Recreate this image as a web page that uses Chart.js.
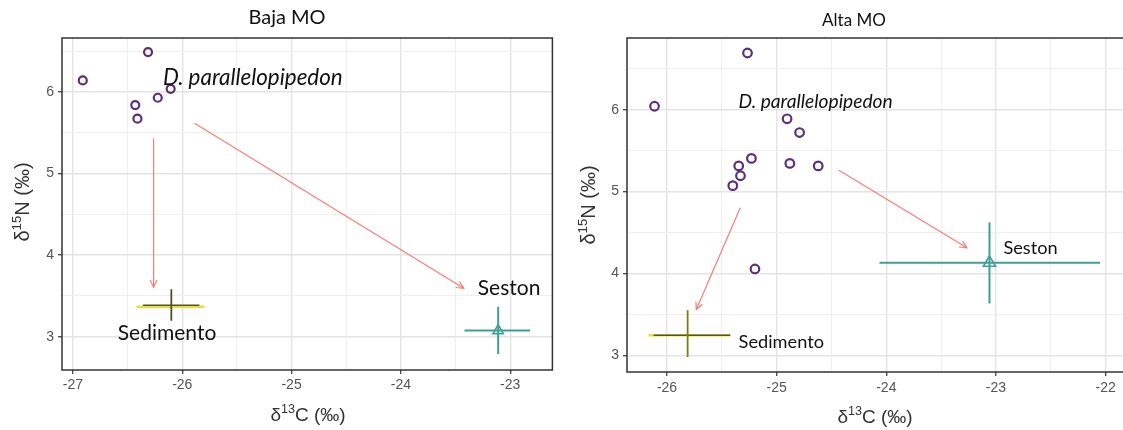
<!DOCTYPE html>
<html>
<head>
<meta charset="utf-8">
<script src="https://cdn.jsdelivr.net/npm/chart.js@4.4.1/dist/chart.umd.min.js"></script>
<style>
  html, body { margin: 0; padding: 0; background: #fff; overflow: hidden; width: 1123px; height: 430px; }
  canvas { position: absolute; top: 0; }
  #baja { left: 0; }
  #alta { left: 560px; }
</style>
</head>
<body>
<canvas id="baja" width="560" height="430"></canvas>
<canvas id="alta" width="600" height="430"></canvas>
<script>
// ---- Baja MO: D. parallelopipedon tissue values (δ13C, δ15N, ‰)
const bajaDparX = [-26.91, -26.313, -26.43, -26.41, -26.224, -26.106];
const bajaDparY = [6.143, 6.49, 5.84, 5.674, 5.93, 6.04];
// Sources: mean and error-bar ends
const bajaSedimentoMean = [-26.10, 3.366];
const bajaSedimentoXBar = [-26.418, -25.797];
const bajaSedimentoXBarInner = [-26.358, -25.843];
const bajaSedimentoYBar = [3.196, 3.582];
const bajaSestonMean = [-23.11, 3.074];
const bajaSestonXBar = [-23.418, -22.818];
const bajaSestonYBar = [2.788, 3.368];
// Arrows: [x0, y0, x1, y1]
const bajaArrows = [[-26.262, 5.43, -26.262, 3.607], [-25.888, 5.618, -23.425, 3.593]];
// Axis ranges and ticks
const bajaXRange = [-27.1, -22.614];
const bajaYRange = [2.591, 6.663];
const bajaXMajor = [-27, -26, -25, -24, -23];
const bajaXMinor = [-26.5, -25.5, -24.5, -23.5];
const bajaYMajor = [3, 4, 5, 6];
const bajaYMinor = [3.5, 4.5, 5.5, 6.5];

// ---- Alta MO
const altaDparX = [-26.114, -25.266, -24.905, -24.791, -25.23, -25.346, -25.33, -25.4, -24.88, -24.621, -25.198];
const altaDparY = [6.043, 6.694, 5.89, 5.722, 5.406, 5.314, 5.194, 5.073, 5.345, 5.314, 4.055];
const altaSedimentoMean = [-25.812, 3.245];
const altaSedimentoXBar = [-26.168, -25.423];
const altaSedimentoXBarInner = [-26.122, -25.423];
const altaSedimentoYBar = [2.98, 3.551];
const altaSestonMean = [-23.059, 4.13];
const altaSestonXBar = [-24.062, -22.05];
const altaSestonYBar = [3.633, 4.625];
const altaArrows = [[-25.332, 4.804, -25.733, 3.56], [-24.436, 5.265, -23.265, 4.314]];
const altaXRange = [-26.365, -21.75];
const altaYRange = [2.796, 6.877];
const altaXMajor = [-26, -25, -24, -23, -22];
const altaXMinor = [-25.5, -24.5, -23.5, -22.5];
const altaYMajor = [3, 4, 5, 6];
const altaYMinor = [3.5, 4.5, 5.5, 6.5];

// Axis titles as [text, isSuperscript] runs
const xTitleRuns = [['δ', false], ['13', true], ['C (‰)', false]];
const yTitleRuns = [['δ', false], ['15', true], ['N (‰)', false]];

const PURPLE = '#5d2f78';
const TEAL = '#3f9f95';
const YELLOW = '#e8e03a';
const OLIVE = '#55551f';
const ARROW = 'rgba(246,112,102,0.9)';

const pts = (xs, ys) => xs.map((x, i) => ({ x, y: ys[i] }));
const seg = (x0, y0, x1, y1) => [{ x: x0, y: y0 }, { x: x1, y: y1 }];
const isMajor = (v, major) => major.some(m => Math.abs(m - v) < 1e-9);

function axis(range, major, minor, fit, pad) {
  const all = major.concat(minor).sort((a, b) => a - b);
  return {
    type: 'linear',
    min: range[0],
    max: range[1],
    afterBuildTicks: ax => { ax.ticks = all.map(v => ({ value: v })); },
    afterFit: fit,
    border: { display: false },
    grid: {
      color: c => isMajor(c.tick.value, major) ? '#e4e4e4' : '#efefef',
      lineWidth: c => isMajor(c.tick.value, major) ? 1.4 : 1,
      tickColor: c => isMajor(c.tick.value, major) ? '#444' : 'rgba(0,0,0,0)',
      tickLength: 4,
      tickWidth: 1.3
    },
    ticks: {
      autoSkip: false,
      maxRotation: 0,
      padding: pad,
      color: '#555',
      font: { family: 'Liberation Sans', size: 14 },
      callback: v => isMajor(v, major) ? String(v) : ''
    }
  };
}

function lineSet(data, color, width) {
  return { data, showLine: true, borderColor: color, borderWidth: width, pointRadius: 0, fill: false };
}

// Draws a run list centred on (0,0) of the current transform, superscripts raised and smaller
function drawRuns(ctx, runs, size) {
  const fontFor = sup => (sup ? size * 0.66 : size) + 'px Liberation Sans';
  let total = 0;
  runs.forEach(([t, sup]) => { ctx.font = fontFor(sup); total += ctx.measureText(t).width; });
  let cx = -total / 2;
  ctx.textAlign = 'left';
  ctx.textBaseline = 'alphabetic';
  const base = size * 0.36;
  runs.forEach(([t, sup]) => {
    ctx.font = fontFor(sup);
    ctx.fillText(t, cx, sup ? base - size * 0.42 : base);
    cx += ctx.measureText(t).width;
  });
}

function decor(p) {
  return {
    id: 'decor',
    afterDatasetsDraw(chart) {
      const { ctx, scales: { x, y } } = chart;
      ctx.save();
      // arrow heads
      ctx.strokeStyle = ARROW;
      ctx.lineWidth = 1.2;
      p.arrows.forEach(a => {
        const x0 = x.getPixelForValue(a[0]), y0 = y.getPixelForValue(a[1]);
        const x1 = x.getPixelForValue(a[2]), y1 = y.getPixelForValue(a[3]);
        const ang = Math.atan2(y1 - y0, x1 - x0);
        const L = 8, s = 0.45;
        ctx.beginPath();
        ctx.moveTo(x1 - L * Math.cos(ang - s), y1 - L * Math.sin(ang - s));
        ctx.lineTo(x1, y1);
        ctx.lineTo(x1 - L * Math.cos(ang + s), y1 - L * Math.sin(ang + s));
        ctx.stroke();
      });
      // in-plot labels
      ctx.fillStyle = '#111';
      ctx.textAlign = 'left';
      ctx.textBaseline = 'middle';
      p.labels.forEach(l => {
        ctx.font = (l.italic ? 'italic ' + p.italicSize : p.labelSize) + 'px Lato';
        ctx.fillText(l.text, x.getPixelForValue(l.x), y.getPixelForValue(l.y));
      });
      ctx.restore();
    },
    afterDraw(chart) {
      const { ctx, chartArea: a } = chart;
      ctx.save();
      ctx.strokeStyle = '#333';
      ctx.lineWidth = 1.5;
      ctx.strokeRect(a.left, a.top, a.right - a.left, a.bottom - a.top);
      ctx.fillStyle = '#111';
      ctx.textAlign = 'center';
      ctx.textBaseline = 'middle';
      ctx.font = p.titleSize + 'px Lato';
      ctx.fillText(p.title, p.titlePos[0], p.titlePos[1]);
      ctx.fillStyle = '#333';
      ctx.save();
      ctx.translate(p.xTitlePos[0], p.xTitlePos[1]);
      drawRuns(ctx, xTitleRuns, p.xTitleSize);
      ctx.restore();
      ctx.translate(p.yTitlePos[0], p.yTitlePos[1]);
      ctx.rotate(-Math.PI / 2);
      drawRuns(ctx, yTitleRuns, p.yTitleSize);
      ctx.restore();
    }
  };
}

function panel(id, d) {
  const datasets = [
    { data: pts(d.dx, d.dy), pointStyle: 'circle', pointRadius: d.ptR, borderWidth: 2.2,
      borderColor: PURPLE, backgroundColor: 'rgba(255,255,255,0)', showLine: false },
    { data: [{ x: d.sesMean[0], y: d.sesMean[1] }], pointStyle: 'triangle', pointRadius: d.triR,
      borderWidth: 1.6, borderColor: TEAL, backgroundColor: 'rgba(255,255,255,0)', showLine: false },
    lineSet(seg(d.sesMean[0], d.sesYBar[0], d.sesMean[0], d.sesYBar[1]), TEAL, 2),
    lineSet(seg(d.sesXBar[0], d.sesMean[1], d.sesXBar[1], d.sesMean[1]), TEAL, 2),
    lineSet(seg(d.sedMean[0], d.sedYBar[0], d.sedMean[0], d.sedYBar[1]), d.sedVColor, 1.8),
    lineSet(seg(d.sedXInner[0], d.sedMean[1] + d.innerShift, d.sedXInner[1], d.sedMean[1] + d.innerShift), OLIVE, 1.5),
    lineSet(seg(d.sedXBar[0], d.sedMean[1], d.sedXBar[1], d.sedMean[1]), YELLOW, 2.4),
  ];
  d.arrows.forEach(a => datasets.push(lineSet(seg(a[0], a[1], a[2], a[3]), ARROW, 1.2)));

  new Chart(document.getElementById(id), {
    type: 'scatter',
    data: { datasets },
    options: {
      responsive: false,
      animation: false,
      events: [],
      layout: { padding: d.padding },
      plugins: { legend: { display: false }, tooltip: { enabled: false } },
      scales: {
        x: axis(d.xRange, d.xMajor, d.xMinor, s => { s.height = d.xAxisH; }, d.xPad),
        y: axis(d.yRange, d.yMajor, d.yMinor, s => { s.width = d.yAxisW; }, 4)
      }
    },
    plugins: [decor(d.decor)]
  });
}

panel('baja', {
  dx: bajaDparX, dy: bajaDparY, ptR: 4, triR: 6,
  sedMean: bajaSedimentoMean, sedXBar: bajaSedimentoXBar, sedXInner: bajaSedimentoXBarInner,
  sedYBar: bajaSedimentoYBar, sedVColor: '#4f4f22', innerShift: 0.02,
  sesMean: bajaSestonMean, sesXBar: bajaSestonXBar, sesYBar: bajaSestonYBar,
  arrows: bajaArrows,
  xRange: bajaXRange, yRange: bajaYRange,
  xMajor: bajaXMajor, xMinor: bajaXMinor, yMajor: bajaYMajor, yMinor: bajaYMinor,
  padding: { left: 0, top: 38, right: 5, bottom: 0 },
  xAxisH: 60, yAxisW: 62, xPad: 3,
  decor: {
    arrows: bajaArrows,
    labelSize: 21, italicSize: 22.4,
    labels: [
      { text: 'D. parallelopipedon', x: -26.177, y: 6.17, italic: true },
      { text: 'Sedimento', x: -26.59, y: 3.04 },
      { text: 'Seston', x: -23.297, y: 3.594 }
    ],
    title: 'Baja MO', titleSize: 20, titlePos: [287, 18],
    xTitleSize: 19, yTitleSize: 20, xTitlePos: [308, 414], yTitlePos: [22, 202]
  }
});

panel('alta', {
  dx: altaDparX, dy: altaDparY, ptR: 4.3, triR: 7,
  sedMean: altaSedimentoMean, sedXBar: altaSedimentoXBar, sedXInner: altaSedimentoXBarInner,
  sedYBar: altaSedimentoYBar, sedVColor: '#7d7b14', innerShift: 0,
  sesMean: altaSestonMean, sesXBar: altaSestonXBar, sesYBar: altaSestonYBar,
  arrows: altaArrows,
  xRange: altaXRange, yRange: altaYRange,
  xMajor: altaXMajor, xMinor: altaXMinor, yMajor: altaYMajor, yMinor: altaYMinor,
  padding: { left: 0, top: 38, right: 27, bottom: 0 },
  xAxisH: 58, yAxisW: 67, xPad: 4,
  decor: {
    arrows: altaArrows,
    labelSize: 18.2, italicSize: 19.2,
    labels: [
      { text: 'D. parallelopipedon', x: -25.347, y: 6.10, italic: true },
      { text: 'Sedimento', x: -25.347, y: 3.163 },
      { text: 'Seston', x: -22.932, y: 4.307 }
    ],
    title: 'Alta MO', titleSize: 17, titlePos: [294, 21],
    xTitleSize: 19, yTitleSize: 20, xTitlePos: [315, 416], yTitlePos: [28, 205]
  }
});
</script>
</body>
</html>
